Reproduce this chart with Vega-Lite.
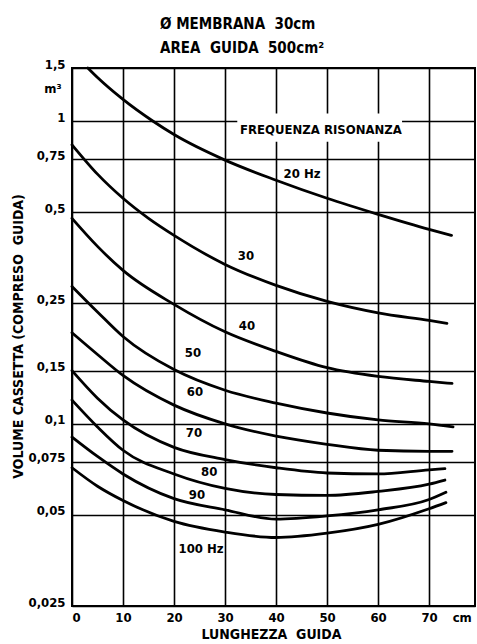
{
  "$schema": "https://vega.github.io/schema/vega-lite/v6.json",
  "width": 403,
  "height": 538,
  "autosize": {"type": "none"},
  "padding": {"left": 72, "top": 68, "right": 2, "bottom": 38},
  "background": "white",
  "title": {
    "text": ["Ø MEMBRANA\u00a0 30cm", "AREA\u00a0 GUIDA\u00a0 500cm²"],
    "anchor": "start",
    "frame": "group",
    "dx": 88,
    "offset": -13,
    "baseline": "bottom",
    "lineHeight": 24,
    "font": "DejaVu Sans Condensed, sans-serif",
    "fontSize": 15,
    "fontWeight": "bold",
    "color": "black"
  },
  "config": {
    "view": {"stroke": "black", "strokeWidth": 2},
    "axis": {
      "labelFont": "DejaVu Sans Condensed, sans-serif",
      "labelFontWeight": "bold",
      "labelFontSize": 13,
      "labelColor": "black",
      "titleFont": "DejaVu Sans Condensed, sans-serif",
      "titleFontWeight": "bold",
      "titleFontSize": 14,
      "titleColor": "black",
      "grid": true,
      "gridColor": "black",
      "gridOpacity": 1,
      "gridWidth": 1.6,
      "domain": false,
      "ticks": false
    },
    "text": {"font": "DejaVu Sans Condensed, sans-serif", "fontWeight": "bold", "fontSize": 13, "color": "black"}
  },
  "data": {
    "values": [
      {"f": "20", "x": 3.1, "v": 1.5},
      {"f": "20", "x": 5, "v": 1.395},
      {"f": "20", "x": 10, "v": 1.181},
      {"f": "20", "x": 15.9, "v": 1.0},
      {"f": "20", "x": 20, "v": 0.904},
      {"f": "20", "x": 30, "v": 0.7442},
      {"f": "20", "x": 40, "v": 0.6385},
      {"f": "20", "x": 50, "v": 0.5565},
      {"f": "20", "x": 60, "v": 0.4924},
      {"f": "20", "x": 70, "v": 0.4392},
      {"f": "20", "x": 74.4, "v": 0.4196},
      {"f": "30", "x": 0, "v": 0.8363},
      {"f": "30", "x": 5, "v": 0.6687},
      {"f": "30", "x": 10, "v": 0.5565},
      {"f": "30", "x": 15, "v": 0.4776},
      {"f": "30", "x": 20, "v": 0.4196},
      {"f": "30", "x": 30, "v": 0.3365},
      {"f": "30", "x": 40, "v": 0.2868},
      {"f": "30", "x": 50, "v": 0.2538},
      {"f": "30", "x": 60, "v": 0.2326},
      {"f": "30", "x": 70, "v": 0.2196},
      {"f": "30", "x": 73.5, "v": 0.2149},
      {"f": "40", "x": 0, "v": 0.4776},
      {"f": "40", "x": 5, "v": 0.3859},
      {"f": "40", "x": 10, "v": 0.3214},
      {"f": "40", "x": 20, "v": 0.2482},
      {"f": "40", "x": 30, "v": 0.2014},
      {"f": "40", "x": 40, "v": 0.1735},
      {"f": "40", "x": 50, "v": 0.1533},
      {"f": "40", "x": 60, "v": 0.1434},
      {"f": "40", "x": 70, "v": 0.1381},
      {"f": "40", "x": 74.5, "v": 0.136},
      {"f": "50", "x": 0, "v": 0.2846},
      {"f": "50", "x": 5, "v": 0.2343},
      {"f": "50", "x": 10, "v": 0.1943},
      {"f": "50", "x": 20, "v": 0.1511},
      {"f": "50", "x": 30, "v": 0.1291},
      {"f": "50", "x": 40, "v": 0.1171},
      {"f": "50", "x": 50, "v": 0.1086},
      {"f": "50", "x": 60, "v": 0.103},
      {"f": "50", "x": 70, "v": 0.1},
      {"f": "50", "x": 74.7, "v": 0.0977},
      {"f": "60", "x": 0, "v": 0.2},
      {"f": "60", "x": 5, "v": 0.1695},
      {"f": "60", "x": 10, "v": 0.1445},
      {"f": "60", "x": 20, "v": 0.1153},
      {"f": "60", "x": 30, "v": 0.1},
      {"f": "60", "x": 40, "v": 0.0911},
      {"f": "60", "x": 50, "v": 0.0856},
      {"f": "60", "x": 60, "v": 0.0818},
      {"f": "60", "x": 70, "v": 0.0811},
      {"f": "60", "x": 74.5, "v": 0.0811},
      {"f": "70", "x": 0, "v": 0.15},
      {"f": "70", "x": 5, "v": 0.1216},
      {"f": "70", "x": 10, "v": 0.103},
      {"f": "70", "x": 20, "v": 0.0836},
      {"f": "70", "x": 30, "v": 0.0762},
      {"f": "70", "x": 40, "v": 0.0716},
      {"f": "70", "x": 50, "v": 0.0688},
      {"f": "70", "x": 60, "v": 0.0683},
      {"f": "70", "x": 70, "v": 0.0705},
      {"f": "70", "x": 73.1, "v": 0.0711},
      {"f": "80", "x": 0, "v": 0.1198},
      {"f": "80", "x": 5, "v": 0.0977},
      {"f": "80", "x": 10, "v": 0.0818},
      {"f": "80", "x": 20, "v": 0.0683},
      {"f": "80", "x": 30, "v": 0.0612},
      {"f": "80", "x": 40, "v": 0.0584},
      {"f": "80", "x": 50, "v": 0.058},
      {"f": "80", "x": 60, "v": 0.0598},
      {"f": "80", "x": 70, "v": 0.0632},
      {"f": "80", "x": 73.1, "v": 0.0652},
      {"f": "90", "x": 0, "v": 0.0904},
      {"f": "90", "x": 5, "v": 0.078},
      {"f": "90", "x": 10, "v": 0.0683},
      {"f": "90", "x": 20, "v": 0.0566},
      {"f": "90", "x": 30, "v": 0.052},
      {"f": "90", "x": 40, "v": 0.0484},
      {"f": "90", "x": 50, "v": 0.0496},
      {"f": "90", "x": 60, "v": 0.052},
      {"f": "90", "x": 70, "v": 0.0562},
      {"f": "90", "x": 73.3, "v": 0.0594},
      {"f": "100", "x": 0, "v": 0.0716},
      {"f": "100", "x": 5, "v": 0.0622},
      {"f": "100", "x": 10, "v": 0.0558},
      {"f": "100", "x": 20, "v": 0.0476},
      {"f": "100", "x": 30, "v": 0.0439},
      {"f": "100", "x": 40, "v": 0.0421},
      {"f": "100", "x": 50, "v": 0.0435},
      {"f": "100", "x": 60, "v": 0.0465},
      {"f": "100", "x": 70, "v": 0.0524},
      {"f": "100", "x": 73.3, "v": 0.0549}
    ]
  },
  "encoding": {
    "x": {
      "field": "x",
      "type": "quantitative",
      "scale": {"domain": [0, 79], "nice": false, "zero": false},
      "axis": {
        "values": [0, 10, 20, 30, 40, 50, 60, 70],
        "labelPadding": 5,
        "title": "LUNGHEZZA\u00a0 GUIDA",
        "titleX": 199,
        "titleY": 28,
        "titleAlign": "center",
        "titleBaseline": "middle"
      }
    },
    "y": {
      "field": "v",
      "type": "quantitative",
      "scale": {"type": "log", "domain": [0.025, 1.5], "nice": false, "zero": false},
      "axis": {
        "values": [0.025, 0.05, 0.075, 0.1, 0.15, 0.25, 0.5, 0.75, 1, 1.5],
        "labelExpr": "replace(toString(datum.value), '.', ',')",
        "labelBaseline": "alphabetic",
        "labelPadding": 7,
        "title": "VOLUME CASSETTA (COMPRESO\u00a0 GUIDA)",
        "titleAngle": -90,
        "titleX": -54,
        "titleY": 268,
        "titleAlign": "center",
        "titleBaseline": "middle"
      }
    }
  },
  "layer": [
    {
      "data": {"values": [{"x": 32.4, "x2": 64.7, "v": 1.06, "v2": 0.856}]},
      "mark": {"type": "rect", "fill": "white", "stroke": null},
      "encoding": {"x2": {"field": "x2"}, "y2": {"field": "v2"}}
    },
    {
      "mark": {"type": "line", "interpolate": "monotone", "color": "black", "strokeWidth": 2.8, "strokeCap": "round"},
      "encoding": {"detail": {"field": "f", "type": "nominal"}}
    },
    {
      "data": {
        "values": [
          {"t": "FREQUENZA RISONANZA", "x": 48.8, "v": 0.9324},
          {"t": "20 Hz", "x": 45.1, "v": 0.668},
          {"t": "30", "x": 34.1, "v": 0.3575},
          {"t": "40", "x": 34.3, "v": 0.2103},
          {"t": "50", "x": 23.7, "v": 0.1708},
          {"t": "60", "x": 24.1, "v": 0.1272},
          {"t": "70", "x": 23.9, "v": 0.0933},
          {"t": "80", "x": 26.9, "v": 0.0694},
          {"t": "90", "x": 24.5, "v": 0.0584},
          {"t": "100 Hz", "x": 25.3, "v": 0.0385}
        ]
      },
      "mark": {"type": "text", "align": "center", "baseline": "middle"},
      "encoding": {"text": {"field": "t"}}
    },
    {
      "data": {"values": [{"t": "m³", "x": 0, "v": 1.5}]},
      "mark": {"type": "text", "align": "center", "baseline": "middle", "dx": -19, "dy": 21},
      "encoding": {"text": {"field": "t"}}
    },
    {
      "data": {"values": [{"t": "cm", "x": 76.5, "v": 0.025}]},
      "mark": {"type": "text", "align": "center", "baseline": "middle", "dy": 12},
      "encoding": {"text": {"field": "t"}}
    }
  ]
}
